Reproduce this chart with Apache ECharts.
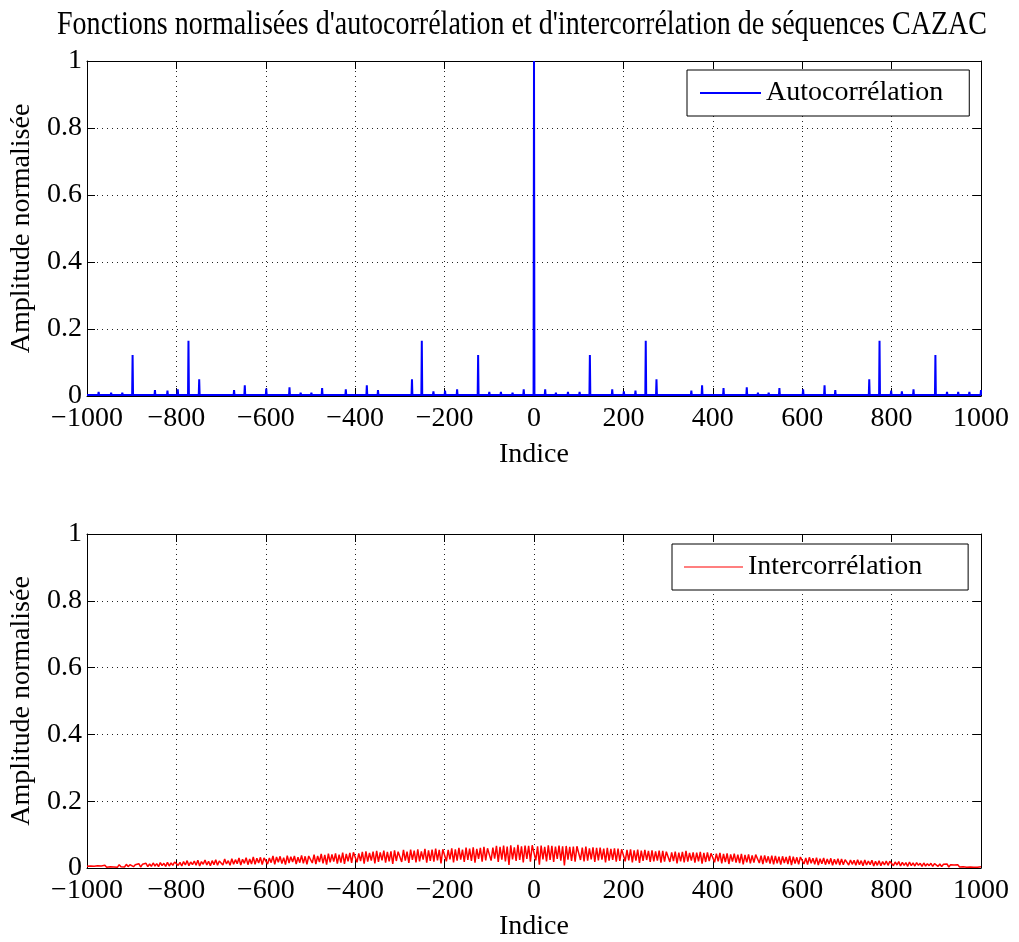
<!DOCTYPE html>
<html><head><meta charset="utf-8">
<script src="https://cdn.jsdelivr.net/npm/echarts@6/dist/echarts.min.js"></script>
<style>html,body{margin:0;padding:0;background:#fff}#c{width:1019px;height:942px}</style>
</head><body><div id="c"></div>
<script>
const titleText = "Fonctions normalisées d'autocorrélation et d'intercorrélation de séquences CAZAC";
const autoName = 'Autocorrélation';
const interName = 'Intercorrélation';
const xLabelName = 'Indice';
const yLabelName = 'Amplitude normalisée';

// Autocorrelation: spike positions (lag) and their peak amplitudes
const autoLags = [-974,-946,-921,-898,-848,-820,-797,-773,-749,-671,-647,-623,-599,-573,-547,-522,-498,-474,-447,-421,-397,-374,-349,-273,-251,-225,-199,-172,-125,-100,-74,-48,-23,0,25,49,76,102,125,175,201,227,250,274,298,352,376,400,424,450,476,501,525,549,573,602,626,650,674,750,773,799,823,849,898,924,949,974,1000];
const autoPeaks = [0.012,0.010,0.010,0.122,0.018,0.016,0.020,0.165,0.050,0.018,0.032,0.008,0.022,0.006,0.026,0.010,0.010,0.024,0.006,0.020,0.008,0.032,0.018,0.050,0.165,0.014,0.016,0.020,0.122,0.012,0.012,0.010,0.020,1.000,0.020,0.010,0.012,0.012,0.122,0.020,0.014,0.016,0.165,0.050,0.004,0.016,0.032,0.008,0.024,0.006,0.026,0.010,0.010,0.024,0.006,0.020,0.008,0.032,0.018,0.050,0.165,0.016,0.014,0.020,0.122,0.012,0.012,0.012,0.018];
const autoFloor = 0.003;

// Intercorrelation: samples every 4 lags from -1000, values in thousandths
const interStart = -1000, interStep = 4;
const interMilli = [
5,2,6,1,5,3,7,2,6,3,8,2,7,4,9,3,8,2,10,4,9,3,11,4,10,
12,4,10,5,13,3,11,6,14,4,12,5,15,6,13,4,16,7,14,5,17,6,15,8,18,
20,8,17,6,19,9,22,7,18,10,21,8,23,6,19,11,24,9,20,7,22,10,25,8,21,
24,9,27,12,22,8,28,11,25,13,30,9,26,14,31,10,27,12,33,11,29,15,32,10,30,
34,12,30,16,36,11,33,17,35,13,31,10,37,15,34,18,36,12,32,16,38,14,35,11,36,
37,15,40,12,36,18,42,14,39,10,43,17,41,19,44,13,40,16,46,12,42,20,45,15,47,
46,17,44,21,48,13,50,19,45,22,49,14,51,18,47,23,52,16,48,20,50,12,53,21,49,
51,18,54,22,49,15,55,24,52,17,56,20,50,25,57,16,53,21,55,19,58,23,54,14,56,
57,20,54,26,59,17,56,22,60,25,55,18,61,24,58,21,62,16,57,27,60,19,63,23,59,
64,22,61,28,66,18,63,25,67,20,64,9,68,26,62,21,69,24,65,17,67,27,66,19,68,
68,23,65,10,67,26,63,20,68,24,66,18,64,27,67,22,65,8,66,25,63,21,64,19,65,
63,24,61,20,64,22,59,26,62,18,60,23,61,25,58,17,60,22,57,24,59,19,58,21,56,
57,20,54,23,56,17,53,22,55,15,52,21,54,24,51,18,53,20,50,22,52,16,51,19,49,
50,18,47,21,49,14,46,20,48,17,51,19,45,22,47,16,46,20,48,13,45,18,47,21,44,
46,17,43,20,45,14,42,18,44,12,41,19,43,16,40,15,42,11,39,17,41,14,38,16,40,
39,15,37,12,38,16,35,13,37,11,36,14,34,10,35,15,33,12,36,9,34,13,32,11,33,
33,12,30,10,32,14,29,11,31,9,28,13,30,10,27,12,29,8,26,11,28,9,27,10,25,
26,9,24,11,23,8,25,10,22,7,24,9,21,10,23,6,20,8,22,7,19,9,21,8,20,
20,7,18,9,19,6,17,8,16,5,18,7,15,6,16,8,14,5,15,6,13,7,14,5,13,
13,5,12,4,11,6,12,3,10,5,9,4,10,3,8,4,9,2,7,3,6,2,7,2,5,
4];

const xMin = -1000, xMax = 1000, xInterval = 200;
const yMin = 0, yMax = 1, yInterval = 0.2;

const autoData = [[xMin, autoFloor]];
autoLags.forEach((l, i) => {
  autoData.push([l - 1, autoFloor], [l, autoPeaks[i]], [l + 1, autoFloor]);
});
if (autoLags[autoLags.length - 1] < xMax) autoData.push([xMax, autoFloor]);
const interData = interMilli.map((v, i) => [interStart + i * interStep, v / 1000]);

const FONT = 'Liberation Serif';
const FS = 28;
const grids = [
  {left: 87, width: 894, top: 61, height: 335},
  {left: 87, width: 894, top: 534, height: 336}
];

function xAx(gi, main) {
  return {
    type: 'value', gridIndex: gi, min: xMin, max: xMax, interval: xInterval,
    position: main ? 'bottom' : 'top',
    name: main ? xLabelName : '', nameLocation: 'middle', nameGap: 45,
    nameTextStyle: {fontFamily: FONT, fontSize: FS, color: '#000'},
    axisLine: {show: true, onZero: false, lineStyle: {color: '#000', width: 1}},
    axisTick: {show: true, inside: true, length: 8, lineStyle: {color: '#000'}},
    axisLabel: {show: main, fontFamily: FONT, fontSize: FS, color: '#000', margin: 9,
      formatter: v => String(v).replace('-', '\u2212')},
    splitLine: {show: main, lineStyle: {color: '#222', width: 1, type: [1, 4]}}
  };
}
function yAx(gi, main) {
  return {
    type: 'value', gridIndex: gi, min: yMin, max: yMax, interval: yInterval,
    position: main ? 'left' : 'right',
    name: main ? yLabelName : '', nameLocation: 'middle', nameGap: 44, nameRotate: 90,
    nameTextStyle: {fontFamily: FONT, fontSize: FS, color: '#000'},
    axisLine: {show: true, onZero: false, lineStyle: {color: '#000', width: 1}},
    axisTick: {show: true, inside: true, length: 8, lineStyle: {color: '#000'}},
    axisLabel: {show: main, fontFamily: FONT, fontSize: FS, color: '#000', margin: 5,
      formatter: v => String(+v.toFixed(1))},
    splitLine: {show: main, lineStyle: {color: '#222', width: 1, type: [1, 4]}}
  };
}

const chart = echarts.init(document.getElementById('c'), null, {renderer: 'canvas'});
chart.setOption({
  animation: false,
  backgroundColor: '#fff',
  graphic: [{
    type: 'text', x: 522, y: 25, scaleX: 0.85, scaleY: 1,
    style: {text: titleText, fontFamily: FONT, fontSize: 33, fill: '#000',
      align: 'center', verticalAlign: 'middle'}
  }],
  grid: grids,
  xAxis: [xAx(0, true), xAx(1, true), xAx(0, false), xAx(1, false)],
  yAxis: [yAx(0, true), yAx(1, true), yAx(0, false), yAx(1, false)],
  legend: [
    {data: [autoName], left: 687, top: 70, orient: 'horizontal', icon: 'rect',
      itemWidth: 61, itemHeight: 2, itemGap: 0,
      padding: [9, 26, 9, 13], borderColor: '#000', borderWidth: 1, backgroundColor: '#fff',
      textStyle: {fontFamily: FONT, fontSize: FS, color: '#000'}},
    {data: [interName], left: 672, top: 544, orient: 'horizontal', icon: 'rect',
      itemWidth: 59, itemHeight: 1, itemGap: 0,
      padding: [9, 46, 9, 12], borderColor: '#000', borderWidth: 1, backgroundColor: '#fff',
      textStyle: {fontFamily: FONT, fontSize: FS, color: '#000'}}
  ],
  series: [
    {name: autoName, type: 'line', xAxisIndex: 0, yAxisIndex: 0, data: autoData,
      symbol: 'none', showSymbol: false, clip: true,
      lineStyle: {color: '#0000ff', width: 2}, itemStyle: {color: '#0000ff'}},
    {name: interName, type: 'line', xAxisIndex: 1, yAxisIndex: 1, data: interData,
      symbol: 'none', showSymbol: false, clip: true,
      lineStyle: {color: '#ff0000', width: 1.5}, itemStyle: {color: '#ff0000'}}
  ]
});
</script>
</body></html>
